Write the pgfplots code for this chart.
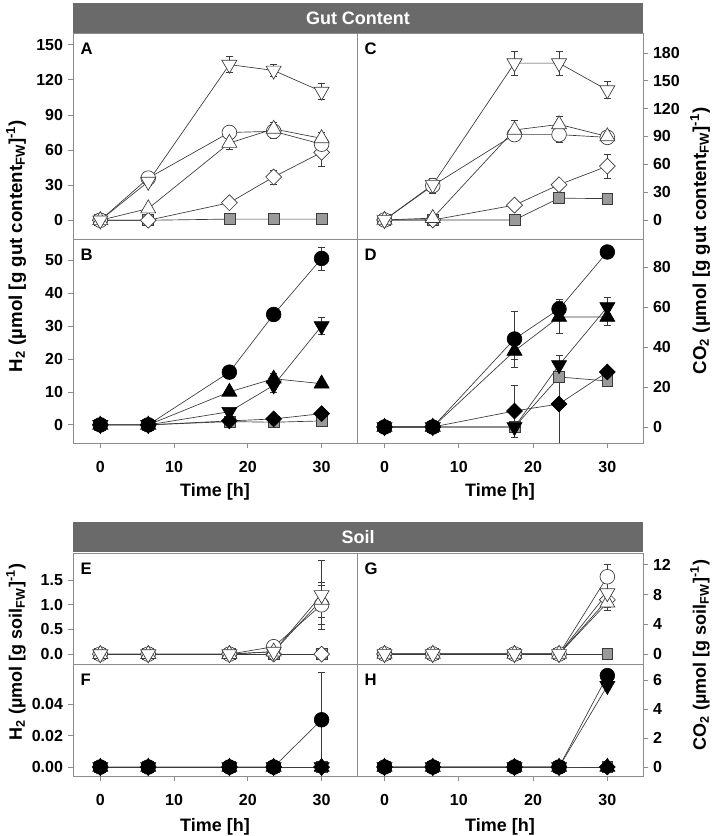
\documentclass[border=0pt]{standalone}
\usepackage{fontspec}
\setmainfont{Liberation Sans}
\usepackage{pgfplots}
\pgfplotsset{compat=1.18}
\definecolor{axgray}{HTML}{8C8C8C}
\definecolor{bandgray}{HTML}{6A6A6A}
\definecolor{sqgray}{HTML}{9A9A9A}
\definecolor{lncol}{HTML}{3A3A3A}
\newcommand{\tfont}{\fontsize{12}{13}\selectfont\bfseries}
\newcommand{\pfont}{\fontsize{12.5}{13}\selectfont\bfseries}
\newcommand{\lfont}{\fontsize{13.5}{15}\selectfont\bfseries}
\newcommand{\yfont}{\fontsize{14}{15}\selectfont\bfseries}
\pgfplotsset{
  panel/.style={
    scale only axis, width=213pt,
    xmin=-3.7, xmax=34.8,
    axis line style={draw=axgray, line width=0.7pt},
    every tick/.style={draw=axgray, line width=0.6pt},
    major tick length=4pt,
    tick align=outside,
    ticklabel style={font=\tfont},
    /pgf/number format/assume math mode=true,
    scaled y ticks=false,
  },
  lp/.style={panel, ytick pos=left},
  rp/.style={panel, width=214.5pt, ytick pos=right, yticklabel pos=right},
  top/.style={xtick=\empty},
  bot/.style={xtick={0,10,20,30}, xtick pos=bottom, xticklabel style={yshift=-6pt}},
  base/.style={lncol, line width=0.5pt,
    /pgfplots/error bars/y dir=both, /pgfplots/error bars/y explicit,
    /pgfplots/error bars/error bar style={lncol, line width=0.5pt},
    /pgfplots/error bars/error mark options={rotate=90, mark size=2.6pt, lncol, line width=0.5pt}},
  oc/.style={base, mark=*, mark size=5.5pt, mark options={fill=white, draw=lncol, line width=0.5pt}},
  ou/.style={base, mark=triangle*, mark size=6.5pt, mark options={fill=white, draw=lncol, line width=0.5pt}},
  od/.style={base, mark=triangle*, mark size=6.5pt, mark options={fill=white, draw=lncol, line width=0.5pt, rotate=180}},
  odm/.style={base, mark=square*, mark size=4.2pt, mark options={fill=white, draw=lncol, line width=0.5pt, rotate=45}},
  sq/.style={base, mark=square*, mark size=4.1pt, mark options={fill=sqgray, draw=lncol, line width=0.5pt}},
  fc/.style={base, mark=*, mark size=5.5pt, mark options={fill=black, draw=black}},
  fu/.style={base, mark=triangle*, mark size=6.5pt, mark options={fill=black, draw=black}},
  fd/.style={base, mark=triangle*, mark size=6.5pt, mark options={fill=black, draw=black, rotate=180}},
  fdm/.style={base, mark=square*, mark size=4.2pt, mark options={fill=black, draw=black, rotate=45}},
}
\newcommand{\plet}[1]{\node[anchor=north west, inner sep=0pt, font=\pfont, xshift=5.5pt, yshift=-7.5pt] at (rel axis cs:0,1) {#1};}
\begin{document}
\begin{tikzpicture}[x=0.75pt,y=0.75pt]
\useasboundingbox (0,0) rectangle (714,836);
% bands
\fill[bandgray] (73,833) rectangle (643,803);
\node[white,font=\lfont] at (358,818) {Gut Content};
\fill[bandgray] (73,314) rectangle (643,284);
\node[white,font=\lfont] at (358,299) {Soil};
% axis labels
\node[rotate=90, font=\yfont] at (16,590) {H\textsubscript{2} (µmol [g gut content\textsubscript{FW}]\textsuperscript{-1})};
\node[rotate=90, font=\yfont] at (700,595) {CO\textsubscript{2} (µmol [g gut content\textsubscript{FW}]\textsuperscript{-1})};
\node[rotate=90, font=\lfont] at (16,184) {H\textsubscript{2} (µmol [g soil\textsubscript{FW}]\textsuperscript{-1})};
\node[rotate=90, font=\lfont] at (700,181) {CO\textsubscript{2} (µmol [g soil\textsubscript{FW}]\textsuperscript{-1})};
\node[font=\lfont] at (215,344) {Time [h]};
\node[font=\lfont] at (500,344) {Time [h]};
\node[font=\lfont] at (215,9) {Time [h]};
\node[font=\lfont] at (500,9) {Time [h]};

% ---------- A ----------
\begin{axis}[lp, top, at={(54.75pt,602.25pt)}, anchor=north west, height=154.5pt,
  ymin=-16, ymax=160, ytick={0,30,60,90,120,150}]
\addplot[sq] table[row sep=\\, y error index=2] {t v e\\ 0 0 0\\ 6.5 0 0\\ 17.5 1 0\\ 23.5 1 0\\ 30 1 0\\};
\addplot[odm] table[row sep=\\, y error index=2] {t v e\\ 0 0 0\\ 6.5 0 0\\ 17.5 15 2\\ 23.5 37 6\\ 30 58 12\\};
\addplot[oc] table[row sep=\\, y error index=2] {t v e\\ 0 0 0\\ 6.5 36 3\\ 17.5 75 5\\ 23.5 76 6\\ 30 65 5\\};
\addplot[ou] table[row sep=\\, y error index=2] {t v e\\ 0 0 0\\ 6.5 10 2\\ 17.5 66 5\\ 23.5 78 6\\ 30 70 5\\};
\addplot[od] table[row sep=\\, y error index=2] {t v e\\ 0 0 0\\ 6.5 33 3\\ 17.5 133 7\\ 23.5 128 5\\ 30 110 7\\};
\plet{A}
\end{axis}
% ---------- B ----------
\begin{axis}[lp, bot, at={(54.75pt,447.75pt)}, anchor=north west, height=153pt,
  ymin=-5.5, ymax=56.4, ytick={0,10,20,30,40,50}]
\addplot[sq] table[row sep=\\, y error index=2] {t v e\\ 0 0 0\\ 6.5 0 0\\ 17.5 1 0\\ 23.5 0.8 0\\ 30 1.2 0\\};
\addplot[fdm] table[row sep=\\, y error index=2] {t v e\\ 0 0 0\\ 6.5 0 0\\ 17.5 1.2 0\\ 23.5 1.8 0.5\\ 30 3.4 0.5\\};
\addplot[fu] table[row sep=\\, y error index=2] {t v e\\ 0 0 0\\ 6.5 0 0\\ 17.5 10 0.5\\ 23.5 14 1.5\\ 30 12.5 0.5\\};
\addplot[fd] table[row sep=\\, y error index=2] {t v e\\ 0 0 0\\ 6.5 0 0\\ 17.5 4 0.5\\ 23.5 12 2\\ 30 30 2.5\\};
\addplot[fc] table[row sep=\\, y error index=2] {t v e\\ 0 0 0\\ 6.5 0 0\\ 17.5 16 0.5\\ 23.5 33.5 0.5\\ 30 50.5 3.5\\};
\plet{B}
\end{axis}
% ---------- C ----------
\begin{axis}[rp, top, at={(267.75pt,602.25pt)}, anchor=north west, height=154.5pt,
  ymin=-20.5, ymax=201.5, ytick={0,30,60,90,120,150,180}]
\addplot[sq] table[row sep=\\, y error index=2] {t v e\\ 0 0 0\\ 6.5 0 0\\ 17.5 0 0\\ 23.5 23.5 0\\ 30 23 0\\};
\addplot[odm] table[row sep=\\, y error index=2] {t v e\\ 0 0 0\\ 6.5 0 0\\ 17.5 16 0\\ 23.5 38 0\\ 30 58 13\\};
\addplot[oc] table[row sep=\\, y error index=2] {t v e\\ 0 0 0\\ 6.5 37 8\\ 17.5 92 6\\ 23.5 92 8\\ 30 89 5\\};
\addplot[ou] table[row sep=\\, y error index=2] {t v e\\ 0 0 0\\ 6.5 2 0\\ 17.5 97 10\\ 23.5 103 9\\ 30 90 4\\};
\addplot[od] table[row sep=\\, y error index=2] {t v e\\ 0 0 0\\ 6.5 38 6\\ 17.5 169 13\\ 23.5 169 13\\ 30 140 9\\};
\plet{C}
\end{axis}
% ---------- D ----------
\begin{axis}[rp, bot, at={(267.75pt,447.75pt)}, anchor=north west, height=153pt,
  ymin=-8, ymax=94, ytick={0,20,40,60,80}]
\addplot[sq] table[row sep=\\, y error index=2] {t v e\\ 0 0 0\\ 6.5 0 0\\ 17.5 0 0\\ 23.5 25 0\\ 30 23 0\\};
\addplot[fdm] table[row sep=\\, y error index=2] {t v e\\ 0 0 0\\ 6.5 0 0\\ 17.5 8 13\\ 23.5 11.5 20\\ 30 27.5 2\\};
\addplot[fd] table[row sep=\\, y error index=2] {t v e\\ 0 0 0\\ 6.5 0 0\\ 17.5 0 1\\ 23.5 31 5\\ 30 60 5\\};
\addplot[fu] table[row sep=\\, y error index=2] {t v e\\ 0 0 0\\ 6.5 0 0\\ 17.5 38 4\\ 23.5 55 8\\ 30 55 4\\};
\addplot[fc] table[row sep=\\, y error index=2] {t v e\\ 0 0 0\\ 6.5 0 0\\ 17.5 44 14\\ 23.5 59 5\\ 30 87.5 0\\};
\plet{D}
\end{axis}
% ---------- E ----------
\begin{axis}[lp, top, at={(54.75pt,212.25pt)}, anchor=north west, height=83.25pt,
  ymin=-0.2, ymax=2.05, ytick={0,0.5,1,1.5},
  yticklabel style={/pgf/number format/.cd, fixed, fixed zerofill, precision=1}]
\addplot[sq] table[row sep=\\, y error index=2] {t v e\\ 0 0 0\\ 6.5 0 0\\ 17.5 0 0\\ 23.5 0 0\\ 30 0 0\\};
\addplot[odm] table[row sep=\\, y error index=2] {t v e\\ 0 0 0\\ 6.5 0 0\\ 17.5 0 0\\ 23.5 0 0\\ 30 0 0\\};
\addplot[oc] table[row sep=\\, y error index=2] {t v e\\ 0 0 0\\ 6.5 0 0\\ 17.5 0 0\\ 23.5 0.15 0\\ 30 1.0 0.4\\};
\addplot[ou] table[row sep=\\, y error index=2] {t v e\\ 0 0 0\\ 6.5 0 0\\ 17.5 0 0\\ 23.5 0.05 0\\ 30 1.1 0.35\\};
\addplot[od] table[row sep=\\, y error index=2] {t v e\\ 0 0 0\\ 6.5 0 0\\ 17.5 0 0\\ 23.5 0.05 0\\ 30 1.2 0.7\\};
\plet{E}
\end{axis}
% ---------- F ----------
\begin{axis}[lp, bot, at={(54.75pt,129pt)}, anchor=north west, height=84pt,
  ymin=-0.0057, ymax=0.0654, ytick={0,0.02,0.04},
  yticklabel style={/pgf/number format/.cd, fixed, fixed zerofill, precision=2}]
\addplot[sq] table[row sep=\\, y error index=2] {t v e\\ 0 0 0\\ 6.5 0 0\\ 17.5 0 0\\ 23.5 0 0\\ 30 0 0\\};
\addplot[fdm] table[row sep=\\, y error index=2] {t v e\\ 0 0 0\\ 6.5 0 0\\ 17.5 0 0\\ 23.5 0 0\\ 30 0 0\\};
\addplot[fu] table[row sep=\\, y error index=2] {t v e\\ 0 0 0\\ 6.5 0 0\\ 17.5 0 0\\ 23.5 0 0\\ 30 0 0\\};
\addplot[fd] table[row sep=\\, y error index=2] {t v e\\ 0 0 0\\ 6.5 0 0\\ 17.5 0 0\\ 23.5 0 0\\ 30 0 0\\};
\addplot[fc] table[row sep=\\, y error index=2] {t v e\\ 0 0 0\\ 6.5 0 0\\ 17.5 0 0\\ 23.5 0 0\\ 30 0.03 0.03\\};
\plet{F}
\end{axis}
% ---------- G ----------
\begin{axis}[rp, top, at={(267.75pt,212.25pt)}, anchor=north west, height=83.25pt,
  ymin=-1.35, ymax=13.6, ytick={0,4,8,12}]
\addplot[sq] table[row sep=\\, y error index=2] {t v e\\ 0 0 0\\ 6.5 0 0\\ 17.5 0 0\\ 23.5 0 0\\ 30 0 0\\};
\addplot[odm] table[row sep=\\, y error index=2] {t v e\\ 0 0 0\\ 6.5 0 0\\ 17.5 0 0\\ 23.5 0 0\\ 30 7.3 1\\};
\addplot[oc] table[row sep=\\, y error index=2] {t v e\\ 0 0 0\\ 6.5 0 0\\ 17.5 0 0\\ 23.5 0 0\\ 30 10.4 1.7\\};
\addplot[ou] table[row sep=\\, y error index=2] {t v e\\ 0 0 0\\ 6.5 0 0\\ 17.5 0 0\\ 23.5 0 0\\ 30 6.9 1\\};
\addplot[od] table[row sep=\\, y error index=2] {t v e\\ 0 0 0\\ 6.5 0 0\\ 17.5 0 0\\ 23.5 0 0\\ 30 8.2 1.5\\};
\plet{G}
\end{axis}
% ---------- H ----------
\begin{axis}[rp, bot, at={(267.75pt,129pt)}, anchor=north west, height=84pt,
  ymin=-0.62, ymax=7.1, ytick={0,2,4,6}]
\addplot[sq] table[row sep=\\, y error index=2] {t v e\\ 0 0 0\\ 6.5 0 0\\ 17.5 0 0\\ 23.5 0 0\\ 30 0 0\\};
\addplot[fdm] table[row sep=\\, y error index=2] {t v e\\ 0 0 0\\ 6.5 0 0\\ 17.5 0 0\\ 23.5 0 0\\ 30 0 0\\};
\addplot[fu] table[row sep=\\, y error index=2] {t v e\\ 0 0 0\\ 6.5 0 0\\ 17.5 0 0\\ 23.5 0 0\\ 30 0 0\\};
\addplot[fd] table[row sep=\\, y error index=2] {t v e\\ 0 0 0\\ 6.5 0 0\\ 17.5 0 0\\ 23.5 0 0\\ 30 5.6 0\\};
\addplot[fc] table[row sep=\\, y error index=2] {t v e\\ 0 0 0\\ 6.5 0 0\\ 17.5 0 0\\ 23.5 0 0\\ 30 6.3 0\\};
\plet{H}
\end{axis}
\end{tikzpicture}
\end{document}
